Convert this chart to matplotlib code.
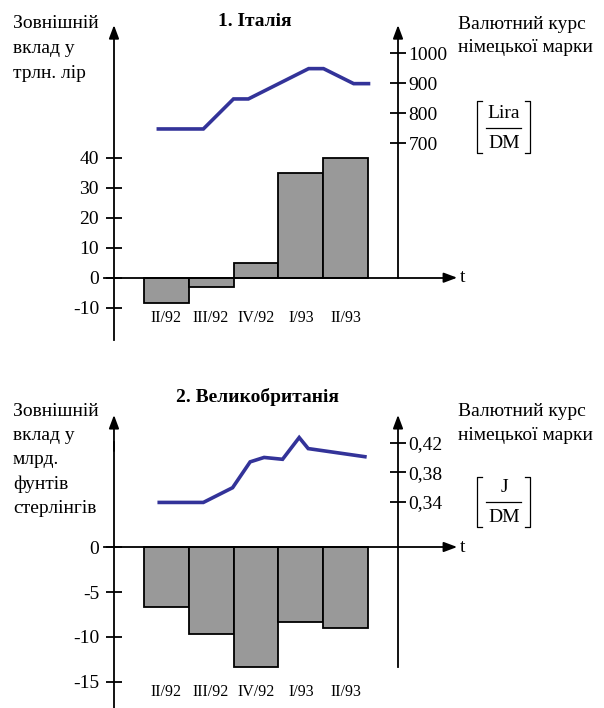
import matplotlib
matplotlib.use("Agg")
import matplotlib.pyplot as plt
from matplotlib.lines import Line2D

plt.rcParams['font.family'] = ['Liberation Serif', 'DejaVu Serif']

quarters = ["II/92", "III/92", "IV/92", "I/93", "II/93"]

# 1. Italy
it_deposits = [-8.3, -3.0, 5.0, 35.0, 40.0]
it_rate_x = [-0.17, 0.83, 1.5, 1.83, 3.17, 3.5, 4.17, 4.5]
it_rate = [748, 748, 848, 848, 949, 949, 899, 899]
it_left_ticks = [-10, 0, 10, 20, 30, 40]
it_right_ticks = [700, 800, 900, 1000]

# 2. Great Britain
uk_deposits = [-6.7, -9.7, -13.3, -8.3, -9.0]
uk_rate_x = [-0.15, 0.83, 1.48, 1.87, 2.18, 2.59, 2.96, 3.16, 4.42]
uk_rate = [0.339, 0.339, 0.359, 0.394, 0.400, 0.3975, 0.427, 0.412, 0.401]
uk_left_ticks = [-15, -10, -5, 0]
uk_right_ticks = [0.34, 0.38, 0.42]

W, H = 604, 708
BAR = "#999999"
LINE = "#333399"
FS = 14

fig = plt.figure(figsize=(W / 100, H / 100), dpi=100)


def px(x, y):
    return x / W, 1 - y / H


def arrow(ax, tip, tail):
    ax.annotate("", xy=tip, xytext=tail, xycoords="data",
                arrowprops=dict(arrowstyle="-|>,head_length=0.8,head_width=0.3",
                                color="black", lw=1.3, shrinkA=0, shrinkB=0))


def unit_box(num, cx, cy, top, bottom, left=477, right=530):
    # [ num / DM ] written as a fraction in square brackets
    for x, d in [(left, 5), (right, -5)]:
        xs, ys = zip(px(x + d, top), px(x, top), px(x, bottom), px(x + d, bottom))
        fig.add_artist(Line2D(xs, ys, color="black", lw=0.9))
    xs, ys = zip(px(left + 9, cy), px(right - 9, cy))
    fig.add_artist(Line2D(xs, ys, color="black", lw=0.9))
    fig.text(*px(cx, cy - 14), num, fontsize=FS, ha="center", va="center")
    fig.text(*px(cx, cy + 15), "DM", fontsize=FS, ha="center", va="center")


def panel(y0, y1, ylim, rlim, values, rx, ry, lticks, rticks, rfmt,
          lbounds, rbounds, xlab_y, xlim=(-1.4667, 6.7556), xl=-1.156, xr=5.156):
    ax = fig.add_axes([100 / W, 1 - y1 / H, 370 / W, (y1 - y0) / H])
    ax.set_xlim(*xlim)
    ax.set_ylim(*ylim)
    ax.patch.set_visible(False)
    ax.bar(range(len(values)), values, width=1.0, color=BAR,
           edgecolor="black", linewidth=1.3, zorder=2)
    for s in ["top", "right"]:
        ax.spines[s].set_visible(False)
    ax.spines["left"].set_position(("data", xl))
    ax.spines["bottom"].set_position(("data", 0))
    ax.spines["left"].set_bounds(lbounds[0], lbounds[1] - 3)
    ax.spines["bottom"].set_bounds(-1.38, 6.3)
    for s in ["left", "bottom"]:
        ax.spines[s].set_linewidth(1.3)
    ax.set_yticks(lticks)
    ax.set_yticklabels([str(t) for t in lticks])
    ax.tick_params(axis="y", direction="inout", length=11.5, width=1.3,
                   labelsize=FS, pad=5)
    ax.set_xticks([])
    arrow(ax, (xl, lbounds[1]), (xl, lbounds[1] - 4))
    arrow(ax, (6.47, 0), (6.2, 0))
    ax.text(6.53, 0, "t", fontsize=FS, va="center", ha="left")
    for i, q in enumerate(quarters):
        ax.text(i, xlab_y, q, fontsize=11.5, ha="center", va="center")

    ax2 = ax.twinx()
    ax2.set_ylim(*rlim)
    for s in ["top", "left", "bottom"]:
        ax2.spines[s].set_visible(False)
    ax2.spines["right"].set_position(("data", xr))
    ax2.spines["right"].set_bounds(rbounds[0], rbounds[1] - (rlim[1] - rlim[0]) * 0.03)
    ax2.spines["right"].set_linewidth(1.3)
    ax2.plot(rx, ry, color=LINE, lw=2.6, solid_joinstyle="miter", zorder=3)
    ax2.set_yticks(rticks)
    ax2.set_yticklabels([rfmt(t) for t in rticks])
    ax2.tick_params(axis="y", direction="inout", length=12, width=1.3,
                    labelsize=FS, pad=1.5)
    span = rlim[1] - rlim[0]
    arrow(ax2, (xr, rbounds[1]), (xr, rbounds[1] - span * 0.04))
    return ax, ax2


panel(20, 345, (-22.43, 85.9), (28.3, 1111), it_deposits, it_rate_x, it_rate,
      it_left_ticks, it_right_ticks, lambda t: str(t),
      (-20.8, 84.2), (252, 1094), -13.4)

panel(405, 708, (-17.89, 15.78), (0.0603, 0.4711), uk_deposits, uk_rate_x, uk_rate,
      uk_left_ticks, uk_right_ticks, lambda t: f"{t:.2f}".replace(".", ","),
      (-17.89, 14.67), (0.1158, 0.4576), -16.1)

# titles and labels
fig.text(*px(255, 22), "1. Італія", fontsize=FS, fontweight="bold",
         ha="center", va="center")
fig.text(*px(257, 397), "2. Великобританія", fontsize=FS, fontweight="bold",
         ha="center", va="center")

fig.text(*px(13, 15), "Зовнішній\nвклад у\nтрлн. лір", fontsize=FS,
         ha="left", va="top", linespacing=1.6)
fig.text(*px(13, 403), "Зовнішній\nвклад у\nмлрд.\nфунтів\nстерлінгів",
         fontsize=FS, ha="left", va="top", linespacing=1.55)

fig.text(*px(458, 16), "Валютний курс\nнімецької марки", fontsize=FS,
         ha="left", va="top", linespacing=1.5)
fig.text(*px(458, 403), "Валютний курс\nнімецької марки", fontsize=FS,
         ha="left", va="top", linespacing=1.5)

unit_box("Lira", 504, 128, 101, 153)
unit_box("J", 504, 502, 477, 527)

fig.savefig("out.png", dpi=100)
